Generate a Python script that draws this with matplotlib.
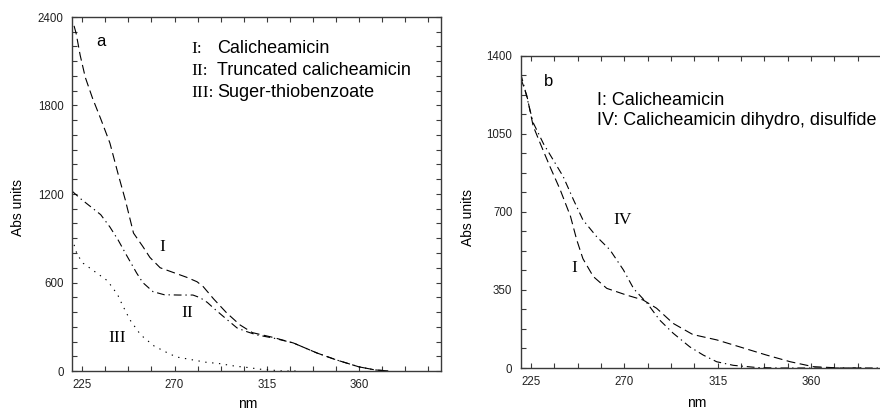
import numpy as np
import matplotlib
matplotlib.use("Agg")
import matplotlib.pyplot as plt
from matplotlib.ticker import FixedLocator, MultipleLocator

plt.rcParams['font.family'] = ['Liberation Sans', 'DejaVu Sans']

# ---- panel a data (nm, Abs units) ----
wl_a_I = [221, 222, 224, 226.5, 230, 234, 238.5, 242.5, 246, 250, 254.5, 258, 263, 269,
          276, 281, 284, 289, 295.5, 302, 308, 318, 328, 339.5, 349, 360, 368, 375]
abs_a_I = [2340, 2290, 2140, 1990, 1850, 1710, 1545, 1335, 1160, 935, 845, 770, 700, 670,
           635, 605, 572, 490, 393, 312, 260, 228, 190, 122, 75, 28, 7, 0]

wl_a_II = [220, 224, 229, 234, 238.5, 242.5, 246.8, 251.5, 254.5, 259.5, 265, 272, 279,
           282.5, 286, 290, 295.5, 300.5, 305, 310, 318, 328, 339.5, 349, 360, 368, 375]
abs_a_II = [1220, 1170, 1115, 1060, 976, 888, 780, 665, 600, 538, 517, 515, 515,
            497, 465, 415, 350, 292, 268, 245, 224, 190, 122, 75, 28, 7, 0]

wl_a_III = [220, 222.5, 225.5, 230.5, 237, 240, 242.5, 244.5, 248.3, 253.5, 260, 267,
            271, 279, 285, 292, 300, 305, 312, 323, 330]
abs_a_III = [900, 790, 730, 680, 615, 562, 510, 450, 346, 245, 170, 120,
             95, 75, 60, 50, 32, 25, 12, 0, 0]

# ---- panel b data ----
wl_b_I = [220, 223, 226, 229.5, 234, 239, 244, 247, 250, 255, 261.5, 271, 279, 285.5,
          293.5, 303, 314.5, 325.5, 338.5, 350, 361, 374, 385]
abs_b_I = [1300, 1220, 1085, 1005, 905, 800, 680, 575, 490, 410, 357, 327, 305, 268,
           200, 150, 126, 95, 58, 28, 6, 0, 0]

wl_b_IV = [220, 222, 226, 231, 236.5, 240.5, 245.5, 250, 256.5, 263, 269.5, 274.5, 281,
           287, 293.5, 301.5, 308, 314.5, 322.5, 334, 345, 400]
abs_b_IV = [1320, 1250, 1100, 1005, 920, 858, 753, 664, 590, 530, 440, 355, 290,
            215, 156, 95, 58, 28, 12, 2, 0, 0]

legend_a_num = ["I:", "II:", "III:"]
legend_a_txt = ["Calicheamicin", "Truncated calicheamicin", "Suger-thiobenzoate"]
legend_b = ["I: Calicheamicin", "IV: Calicheamicin dihydro, disulfide"]

W, H = 880, 411
fig = plt.figure(figsize=(W / 100, H / 100), dpi=100)


def px(x, y):
    # pixel position -> figure fraction
    return x / W, 1 - y / H


dash = (0, (8, 4))
dashdot = (0, (7, 3.5, 1.2, 3.5))
dotted = (0, (1.2, 5))
spine_col = '#3a3a3a'
lw = 0.8


def style_axes(ax, ymajor, yminor):
    for s in ax.spines.values():
        s.set_color(spine_col)
        s.set_linewidth(1.0)
    ax.xaxis.set_major_locator(FixedLocator([225, 270, 315, 360]))
    ax.xaxis.set_minor_locator(FixedLocator(np.arange(225, 400, 11.25)))
    ax.yaxis.set_major_locator(MultipleLocator(ymajor))
    ax.yaxis.set_minor_locator(MultipleLocator(yminor))
    ax.tick_params(which='both', direction='in', top=True, right=True,
                   length=3.8, width=0.8, color=spine_col,
                   labelsize=8.3, labelcolor='#222222', pad=6)
    ax.set_xlim(220, 400)


# ---- panel a ----
l, b = px(72, 371)
r, t = px(441, 17)
ax1 = fig.add_axes([l, b, r - l, t - b])
ax1.plot(wl_a_I, abs_a_I, color='black', lw=lw, linestyle=dash)
ax1.plot(wl_a_II, abs_a_II, color='black', lw=lw, linestyle=dashdot)
ax1.plot(wl_a_III, abs_a_III, color='black', lw=lw, linestyle=dotted)
style_axes(ax1, 600, 100)
ax1.set_ylim(0, 2400)

# ---- panel b (cut off at the right edge as in the source) ----
l, b = px(520.7, 368)
t = 1 - 55.7 / H
wb = 180 * 2.074 / W
ax2 = fig.add_axes([l, b, wb, t - b])
ax2.plot(wl_b_I, abs_b_I, color='black', lw=lw, linestyle=dash)
ax2.plot(wl_b_IV, abs_b_IV, color='black', lw=lw, linestyle=dashdot)
style_axes(ax2, 350, 87.5)
ax2.set_ylim(0, 1400)

# axis labels
fig.text(*px(18, 207), "Abs units", rotation=90, ha='center', va='center', fontsize=10)
fig.text(*px(468, 217), "Abs units", rotation=90, ha='center', va='center', fontsize=10)
fig.text(*px(248, 404), "nm", ha='center', va='center', fontsize=10)
fig.text(*px(697, 403), "nm", ha='center', va='center', fontsize=10)

# panel letters
fig.text(*px(96, 46), "a", fontsize=12, va='baseline')
fig.text(*px(544, 86), "b", fontsize=12, va='baseline')

# legend texts
serif = ['Liberation Serif', 'DejaVu Serif']
for i, (n, s) in enumerate(zip(legend_a_num, legend_a_txt)):
    yb = 53.3 + 21.7 * i
    fig.text(*px(191, yb), n, fontsize=12.5, family=serif, va='baseline')
    fig.text(*px(217, yb), s, fontsize=13, va='baseline')
for i, s in enumerate(legend_b):
    fig.text(*px(596.7, 105 + 20 * i), s, fontsize=13, va='baseline')

# curve labels
fig.text(*px(162, 247), "I", fontsize=12.5, family=serif, ha='center', va='center')
fig.text(*px(187, 313), "II", fontsize=12.5, family=serif, ha='center', va='center')
fig.text(*px(117, 338), "III", fontsize=12.5, family=serif, ha='center', va='center')
fig.text(*px(623, 220), "IV", fontsize=12.5, family=serif, ha='center', va='center')
fig.text(*px(574, 268), "I", fontsize=12.5, family=serif, ha='center', va='center')

fig.savefig("out.png", dpi=100)
